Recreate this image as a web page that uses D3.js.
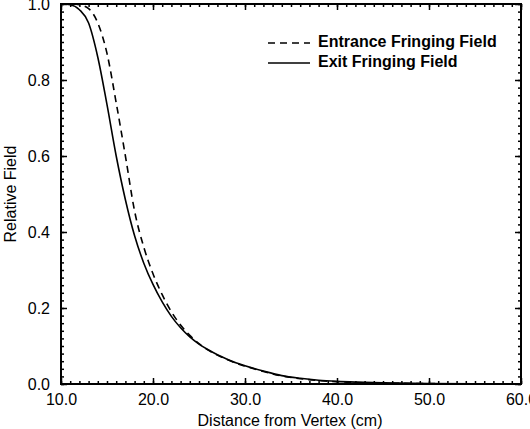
<!DOCTYPE html>
<html>
<head>
<meta charset="utf-8">
<script src="https://cdn.jsdelivr.net/npm/d3@7"></script>
<style>
  body { margin: 0; background: #fff; }
  svg { display: block; font-family: Helvetica, Arial, "Liberation Sans", sans-serif; }
</style>
</head>
<body>
<svg id="chart" width="530" height="429"></svg>
<script>
// distance from vertex (cm)
var exitX = [10, 11, 12, 13, 14, 15, 16, 17, 18, 19, 20, 21, 22, 23, 24, 25, 26, 27, 28, 29, 30, 32, 34, 36, 38, 40, 42, 45, 50, 55, 60];
var exitY = [1.0, 0.998, 0.985, 0.95, 0.86, 0.735, 0.60, 0.485, 0.39, 0.318, 0.262, 0.216, 0.178, 0.148, 0.124, 0.105, 0.09, 0.077, 0.066, 0.056, 0.048, 0.034, 0.022, 0.015, 0.01, 0.007, 0.005, 0.003, 0.0012, 0.0005, 0.0002];

var entranceX = [10, 11, 12, 13, 14, 15, 16, 17, 18, 19, 20, 21, 22, 23, 24, 25, 26, 27, 28, 29, 30, 32, 34, 36, 38, 40, 42, 45, 50, 55, 60];
var entranceY = [1.0, 1.0, 0.998, 0.988, 0.95, 0.87, 0.74, 0.60, 0.455, 0.36, 0.29, 0.235, 0.19, 0.155, 0.128, 0.106, 0.089, 0.076, 0.065, 0.055, 0.047, 0.033, 0.021, 0.014, 0.009, 0.006, 0.004, 0.0025, 0.001, 0.0004, 0.0001];

var xTicks = [10, 20, 30, 40, 50, 60];
var yTicks = [0, 0.2, 0.4, 0.6, 0.8, 1.0];
var seriesNames = ["Entrance Fringing Field", "Exit Fringing Field"];

var svg = d3.select("#chart");
// plot box edges (note: "top" is reserved on window)
var plotL = 61, plotR = 521, plotT = 4, plotB = 384;

var x = d3.scaleLinear().domain([10, 60]).range([plotL, plotR]);
var y = d3.scaleLinear().domain([0, 1]).range([plotB, plotT]);

var xMinor = d3.range(10, 61, 1);
var yMinor = d3.range(0, 1.0001, 0.02);
var fmt = d3.format(".1f");

function styleAxis(g) {
  g.select(".domain").remove();
  g.selectAll("line").attr("stroke", "#000").attr("stroke-width", 1.5);
  g.selectAll("text").attr("fill", "#000").style("font-size", "16px");
}

// minor ticks
svg.append("g").attr("transform", "translate(0," + plotB + ")")
  .call(d3.axisBottom(x).tickValues(xMinor).tickSize(-3).tickFormat(""))
  .call(styleAxis);
svg.append("g").attr("transform", "translate(0," + plotT + ")")
  .call(d3.axisTop(x).tickValues(xMinor).tickSize(-3).tickFormat(""))
  .call(styleAxis);
svg.append("g").attr("transform", "translate(" + plotL + ",0)")
  .call(d3.axisLeft(y).tickValues(yMinor).tickSize(-3).tickFormat(""))
  .call(styleAxis);
svg.append("g").attr("transform", "translate(" + plotR + ",0)")
  .call(d3.axisRight(y).tickValues(yMinor).tickSize(-3).tickFormat(""))
  .call(styleAxis);

// major ticks
svg.append("g").attr("transform", "translate(0," + plotB + ")")
  .call(d3.axisBottom(x).tickValues(xTicks).tickSize(-6).tickPadding(10).tickFormat(fmt))
  .call(styleAxis);
svg.append("g").attr("transform", "translate(0," + plotT + ")")
  .call(d3.axisTop(x).tickValues(xTicks).tickSize(-6).tickFormat(""))
  .call(styleAxis);
svg.append("g").attr("transform", "translate(" + plotL + ",0)")
  .call(d3.axisLeft(y).tickValues(yTicks).tickSize(-6).tickPadding(11).tickFormat(fmt))
  .call(styleAxis);
svg.append("g").attr("transform", "translate(" + plotR + ",0)")
  .call(d3.axisRight(y).tickValues(yTicks).tickSize(-6).tickFormat(""))
  .call(styleAxis);

// frame
svg.append("rect")
  .attr("x", plotL).attr("y", plotT)
  .attr("width", plotR - plotL).attr("height", plotB - plotT)
  .attr("fill", "none").attr("stroke", "#000").attr("stroke-width", 2);

// curves
var line = d3.line()
  .x(function(d) { return x(d[0]); })
  .y(function(d) { return y(d[1]); })
  .curve(d3.curveMonotoneX);

svg.append("path")
  .datum(d3.zip(exitX, exitY))
  .attr("d", line)
  .attr("fill", "none").attr("stroke", "#000").attr("stroke-width", 1.6);

svg.append("path")
  .datum(d3.zip(entranceX, entranceY))
  .attr("d", line)
  .attr("fill", "none").attr("stroke", "#000").attr("stroke-width", 1.6)
  .attr("stroke-dasharray", "7,5");

// legend
var legend = svg.append("g");
legend.append("line")
  .attr("x1", 268).attr("x2", 310).attr("y1", 43).attr("y2", 43)
  .attr("stroke", "#000").attr("stroke-width", 1.6).attr("stroke-dasharray", "7,5");
legend.append("line")
  .attr("x1", 268).attr("x2", 310).attr("y1", 63).attr("y2", 63)
  .attr("stroke", "#000").attr("stroke-width", 1.6);
legend.selectAll("text").data(seriesNames).enter().append("text")
  .attr("x", 318)
  .attr("y", function(d, i) { return 47 + i * 20; })
  .style("font-size", "16px").style("font-weight", "bold")
  .text(function(d) { return d; });

// axis titles
svg.append("text")
  .attr("x", 290).attr("y", 426)
  .attr("text-anchor", "middle")
  .style("font-size", "16px")
  .text("Distance from Vertex (cm)");

svg.append("text")
  .attr("transform", "translate(16,194) rotate(-90)")
  .attr("text-anchor", "middle")
  .style("font-size", "16px")
  .text("Relative Field");
</script>
</body>
</html>
